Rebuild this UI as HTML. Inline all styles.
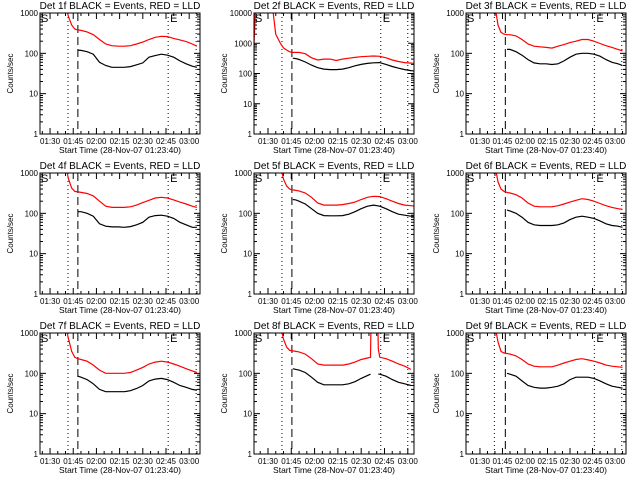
<!DOCTYPE html>
<html><head><meta charset="utf-8">
<style>
html,body{margin:0;padding:0;background:#fff;}
svg{display:block;font-family:"Liberation Sans",sans-serif;}
</style></head>
<body>
<svg id="chart" width="640" height="480" viewBox="0 0 640 480" xmlns="http://www.w3.org/2000/svg"></svg>
<script>
// ---- data ----
const T = [-9,-8,-6,3,5,8,10,12,14,16,18,20,24,28,32,36,40,44,48,52,56,60,64,68,72,76,80,84,88,92,95];
const T8 = [8,10,12,14,16,18,20,24,28,32,36,40,44,48,52,56,60,64,66,66.5,70.5,71,72,76,80,84,88,92];
const xTickMinutes = [0,15,30,45,60,75,90];
const xTickLabels = ['01:30','01:45','02:00','02:15','02:30','02:45','03:00'];
const detLabels = ['1f','2f','3f','4f','5f','6f','7f','8f','9f'];
const vlinesCol = [[11.6,18,76.4,94.5],[9,15.4,72.6,90],[9.6,16.9,76.2,94.5]];
const n=null;
const red1=[n,n,n,n,n,n,1500,800,500,400,380,370,340,290,220,170,155,150,150,155,170,190,220,250,265,260,235,215,195,170,150];
const blk1=[n,n,n,n,n,n,n,n,n,n,120,118,110,95,60,50,45,45,45,47,52,58,80,88,95,90,80,65,55,48,45];
const red2=[1000,15000,15000,15000,2000,1000,700,600,520,500,500,500,450,330,280,300,300,270,300,320,340,360,370,380,370,330,280,250,230,220,215];
const blk2=[n,n,n,n,n,n,n,n,n,320,310,290,240,190,155,140,135,135,140,155,180,200,215,225,230,200,170,150,135,125,120];
const red3=[n,n,n,n,n,n,1500,500,330,300,290,290,270,220,170,150,145,140,135,150,165,185,200,220,220,200,175,155,140,125,115];
const blk3=[n,n,n,n,n,n,n,n,n,n,125,125,110,90,70,58,55,55,53,55,65,80,95,100,100,95,85,70,60,55,50];
const red4=[n,n,n,n,n,n,1500,700,420,350,340,330,310,270,200,150,140,140,140,145,160,185,210,240,250,240,215,190,170,150,140];
const blk4=[n,n,n,n,n,n,n,n,n,n,110,110,100,85,55,48,46,46,45,47,52,60,80,88,90,85,75,60,52,45,45];
const red5=[n,n,n,n,n,1500,700,480,400,380,370,360,320,250,180,160,160,160,165,175,190,220,250,265,260,230,200,175,160,155,150];
const blk5=[n,n,n,n,n,n,n,n,n,220,215,200,170,130,100,88,87,87,88,95,110,130,150,160,150,130,110,95,90,85,85];
const red6=[n,n,n,n,n,n,1500,600,400,350,330,320,290,240,180,150,145,145,145,155,170,190,210,230,220,200,175,155,140,130,125];
const blk6=[n,n,n,n,n,n,n,n,n,n,120,115,100,80,60,52,50,50,50,52,58,70,80,85,80,75,65,55,50,48,45];
const red7=[n,n,n,n,n,n,1500,700,350,250,230,220,200,160,120,100,100,100,100,105,120,140,170,190,200,190,170,150,130,115,105];
const blk7=[n,n,n,n,n,n,n,n,n,n,85,80,70,55,40,35,35,35,35,37,42,50,65,72,75,70,60,50,45,40,38];
const red8=[1500,700,450,370,360,350,340,300,230,170,160,160,160,160,170,190,220,240,250,5000,5000,400,250,230,200,170,150,125];
const blk8=[n,n,n,n,130,125,120,105,80,60,52,52,52,52,55,62,75,88,95,n,n,95,95,85,70,60,55,50];
const red9=[n,n,n,n,n,n,1500,600,350,320,310,300,270,220,170,150,145,145,145,160,180,200,220,230,215,200,180,160,150,145,140];
const blk9=[n,n,n,n,n,n,n,n,n,n,100,95,85,65,50,45,43,43,45,48,55,70,80,80,80,75,65,55,48,45,43];

const panels=[
 {t:T,red:red1,blk:blk1,ymax:1000},{t:T,red:red2,blk:blk2,ymax:10000},{t:T,red:red3,blk:blk3,ymax:1000},
 {t:T,red:red4,blk:blk4,ymax:1000},{t:T,red:red5,blk:blk5,ymax:1000},{t:T,red:red6,blk:blk6,ymax:1000},
 {t:T,red:red7,blk:blk7,ymax:1000},{t:T8,red:red8,blk:blk8,ymax:1000},{t:T,red:red9,blk:blk9,ymax:1000}];

// ---- layout ----
const colX0=[40,254,466], colX1=[200,414,626];
const colDom=[[-6.5,97],[-9,94],[-9.3,97.3]];
const rowY0=[13,173,333], rowH=121;
const NS='http://www.w3.org/2000/svg';
const svg=document.getElementById('chart');
function mk(tag,attrs,parent){const e=document.createElementNS(NS,tag);for(const k in attrs)e.setAttribute(k,attrs[k]);(parent||svg).appendChild(e);return e;}

panels.forEach((p,i)=>{
  const c=i%3,r=Math.floor(i/3);
  const x0=colX0[c],x1=colX1[c],y0=rowY0[r],y1=y0+rowH;
  const d=colDom[c];
  const xs=t=>x0+(t-d[0])/(d[1]-d[0])*(x1-x0);
  const lmax=Math.log10(p.ymax);
  const ys=v=>y1-Math.log10(v)/lmax*(y1-y0);
  const g=mk('g',{});
  
  
  const cid='clip'+i;
  const cp=mk('clipPath',{id:cid},g);mk('rect',{x:x0,y:y0,width:x1-x0,height:y1-y0},cp);
  // title
  const tt=mk('text',{x:(x0+x1)/2,y:y0-4,'text-anchor':'middle','font-size':10},g);
  tt.textContent='Det '+detLabels[i]+' BLACK = Events, RED = LLD';
  
  
  // y title
  const yt=mk('text',{x:0,y:0,'text-anchor':'middle','font-size':8,transform:`translate(${x0-27},${(y0+y1)/2}) rotate(-90)`},g);
  yt.textContent='Counts/sec';
  
  
  // y ticks
  for(let k=0;k<=lmax;k++){
    const yy=ys(Math.pow(10,k));
    mk('line',{x1:x0,x2:x0+6,y1:yy,y2:yy,stroke:'#000'},g);
    mk('line',{x1:x1,x2:x1-6,y1:yy,y2:yy,stroke:'#000'},g);
    const lb=mk('text',{x:x0-2,y:yy+3,'text-anchor':'end','font-size':8},g);
    lb.textContent=String(Math.pow(10,k));
    
    
    if(k<lmax){for(let m=2;m<10;m++){const ym=ys(m*Math.pow(10,k));
      mk('line',{x1:x0,x2:x0+3,y1:ym,y2:ym,stroke:'#000'},g);
      mk('line',{x1:x1,x2:x1-3,y1:ym,y2:ym,stroke:'#000'},g);}}
  }
  // x ticks
  for(let m=-5;m<=d[1];m+=5){ if(m<d[0])continue;const xx=xs(m);const maj=m%15===0;
    mk('line',{x1:xx,x2:xx,y1:y1,y2:y1-(maj?6:3),stroke:'#000'},g);
    mk('line',{x1:xx,x2:xx,y1:y0,y2:y0+(maj?6:3),stroke:'#000'},g);}
  xTickMinutes.forEach((m,j)=>{
    const lb=mk('text',{x:xs(m),y:y1+10,'text-anchor':'middle','font-size':8},g);
    lb.textContent=xTickLabels[j];
    
    
  });
  const xt=mk('text',{x:(x0+x1)/2,y:y1+19,'text-anchor':'middle','font-size':8.5},g);
  xt.textContent='Start Time (28-Nov-07 01:23:40)';
  
  
  // vertical lines
  vlinesCol[c].forEach((m,j)=>{
    const l=mk('line',{x1:xs(m),x2:xs(m),y1:y0,y2:y1,stroke:'#000','stroke-width':1,'stroke-dasharray':j===1?'8,4':'1,3'},g);
    
    
  });
  // series
  function series(vals,color,name){
    let dstr='',pen=false;
    p.t.forEach((t,k)=>{const v=vals[k];if(v===null){pen=false;return;}
      dstr+=(pen?'L':'M')+xs(t).toFixed(1)+','+ys(v).toFixed(1);pen=true;});
    const pa=mk('path',{d:dstr,fill:'none',stroke:color,'stroke-width':1.2,'clip-path':`url(#${cid})`},g);
    
    
  }
  series(p.red,'#ff0000','red-lld-series');
  series(p.blk,'#000000','black-events-series');
  // S / E markers
  const s=mk('text',{x:x0+1,y:y0+9,'font-size':11},g);s.textContent='S';
  
  
  const e=mk('text',{x:xs(vlinesCol[c][2])+2,y:y0+9,'font-size':11},g);e.textContent='E';
  
  
  // frame
  const fr=mk('rect',{x:x0,y:y0,width:x1-x0,height:y1-y0,fill:'none',stroke:'#000'},g);
  
  
});
</script>
</body></html>
